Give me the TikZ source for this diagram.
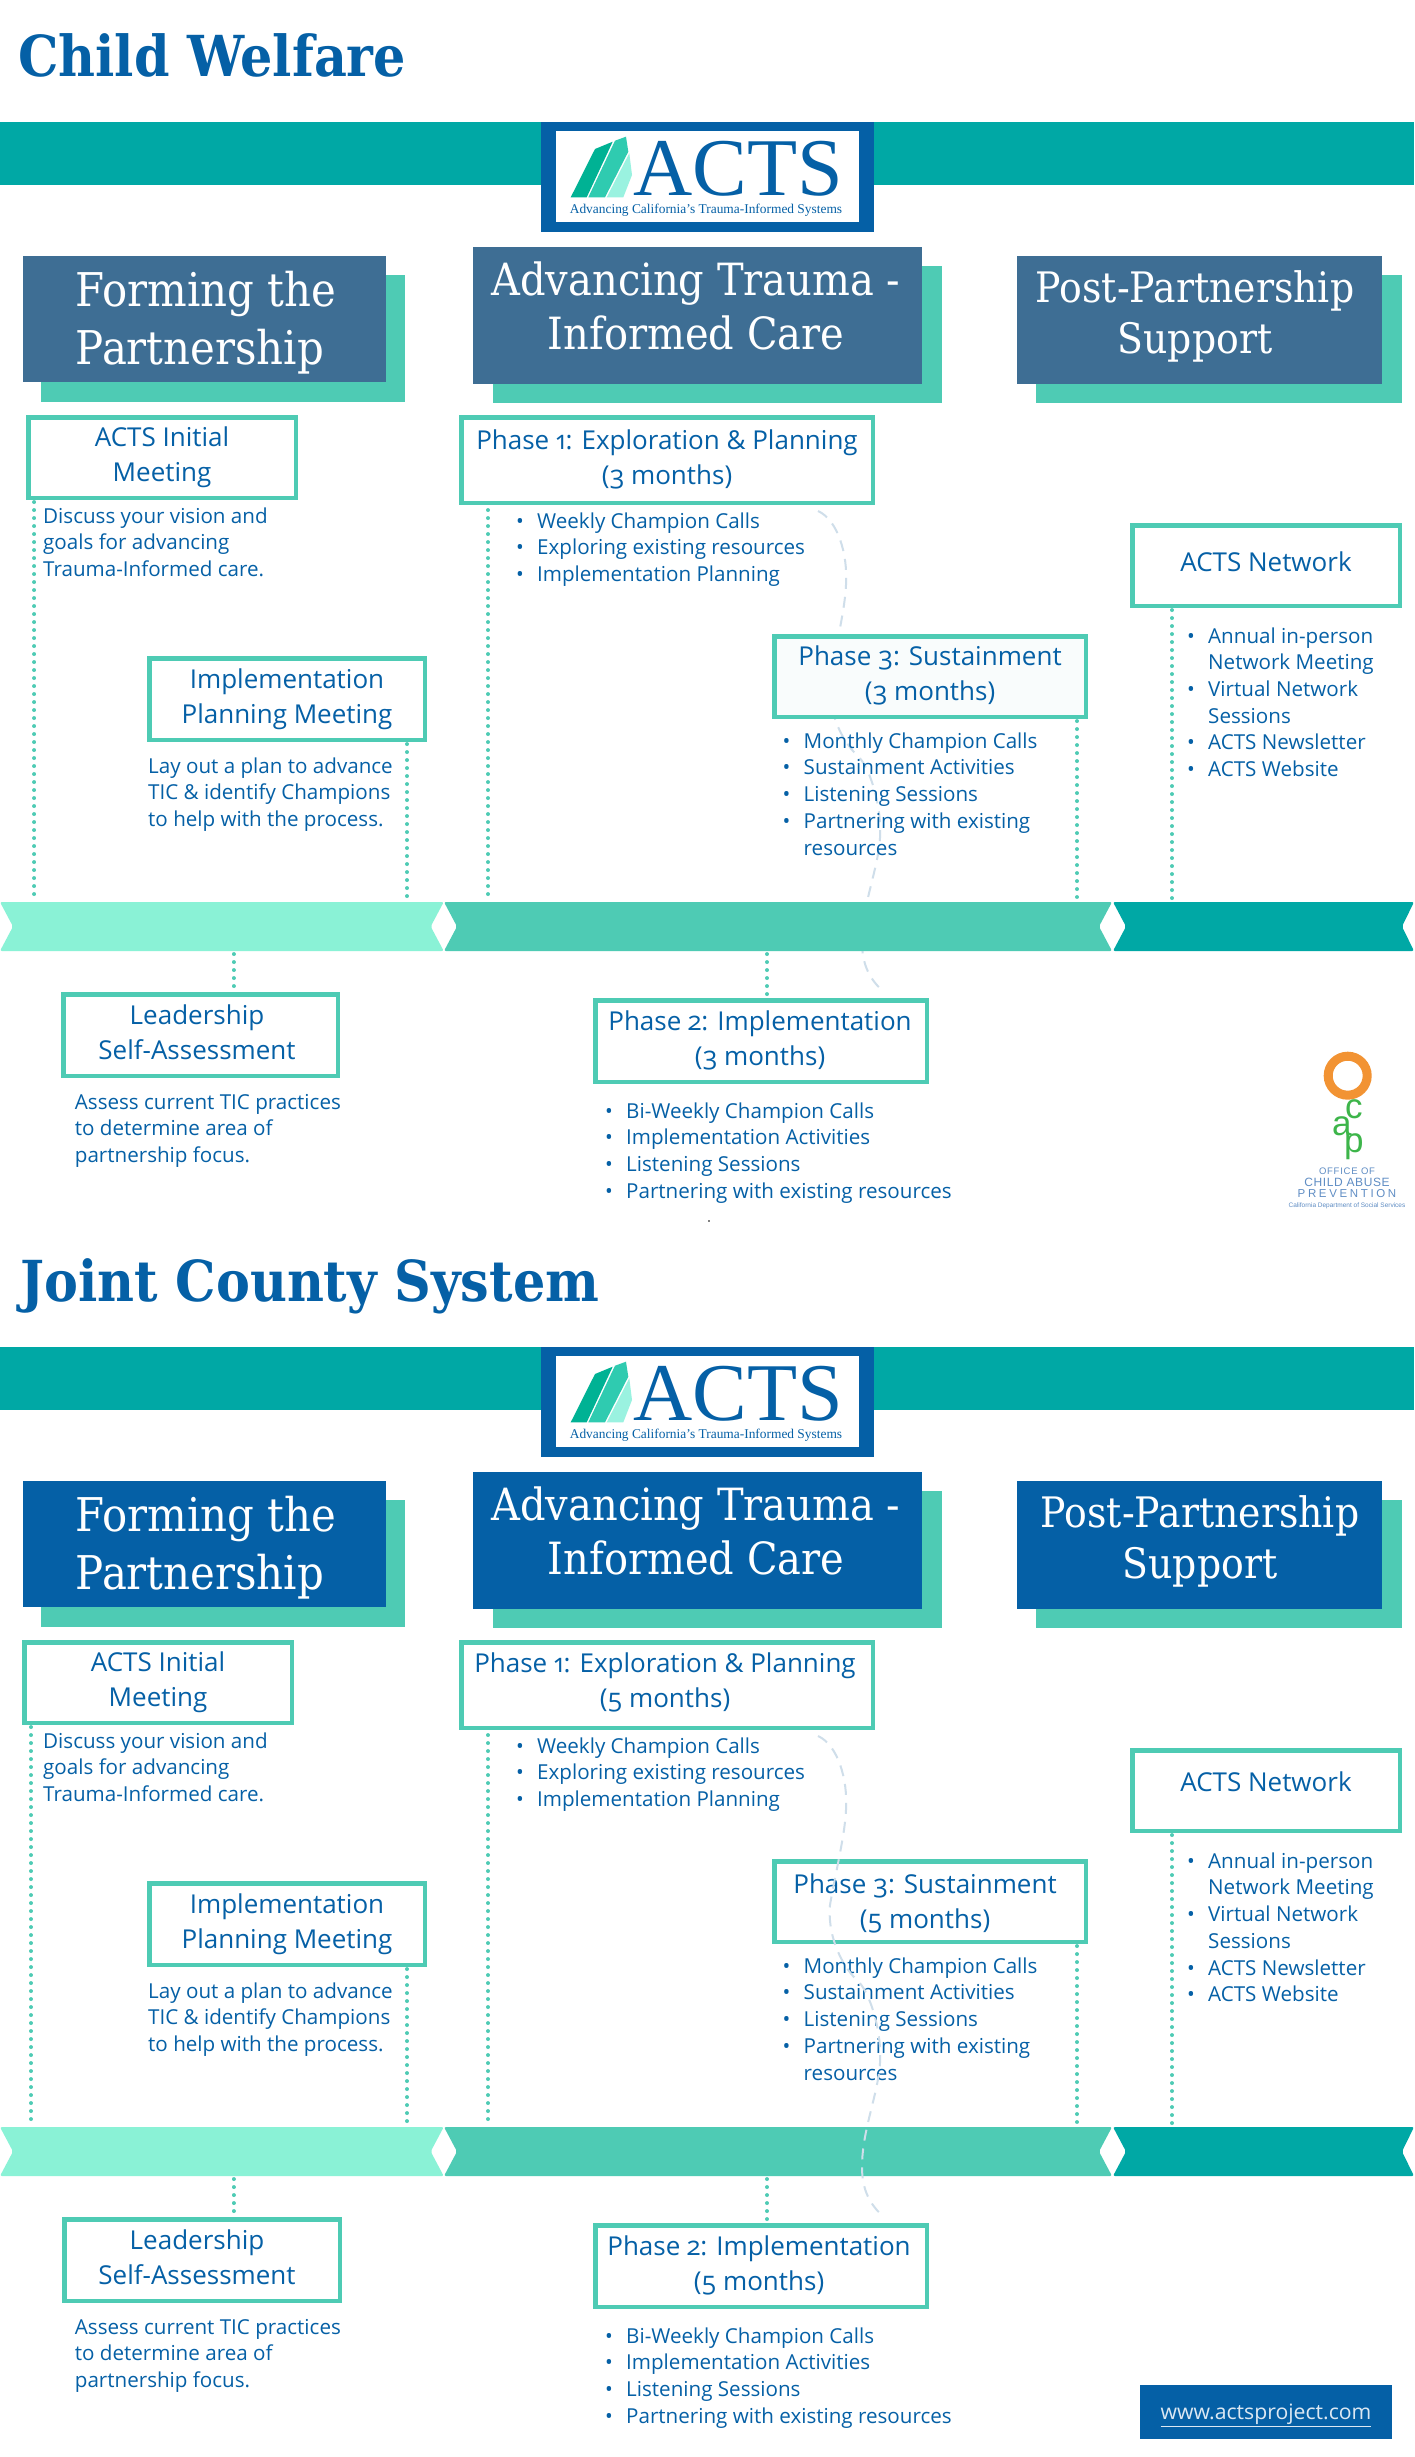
\documentclass[tikz,border=0pt]{standalone}
\usepackage{fontspec}
\usetikzlibrary{calc}
\setmainfont[Numbers=OldStyle]{Open Sans}
\newfontfamily\headfont[FakeStretch=0.9]{DejaVu Serif}
\newfontfamily\logofont{Liberation Serif}
\newfontfamily\ocapfont{Liberation Sans}
\definecolor{actsblue}{HTML}{0560A6}
\definecolor{slateblue}{HTML}{3E6E94}
\definecolor{mint}{HTML}{4ECBB4}
\definecolor{palemint}{HTML}{8AF2D6}
\definecolor{teal}{HTML}{00A8A5}
\definecolor{dashgrey}{HTML}{CFDEEA}
\definecolor{ocapblue}{HTML}{5F8DC4}
\definecolor{tintwhite}{HTML}{F9FCFC}
\definecolor{leafa}{HTML}{00B294}
\definecolor{leafb}{HTML}{2FCBB0}
\definecolor{leafc}{HTML}{9AF2E0}
\definecolor{ocapring}{HTML}{F29333}
\definecolor{ocapgreen}{HTML}{3DB54A}
\definecolor{webtextcol}{HTML}{DCE8F3}
\tikzset{
  tbox/.style={draw=mint,line width=4.5pt,fill=white,inner sep=0pt},
  plainbox/.style={inner sep=0pt,outer sep=0pt},
  boxtext/.style={inner sep=0pt,align=center,anchor=north,text=actsblue,font=\fontsize{26}{35}\selectfont},
  bodytext/.style={inner sep=0pt,align=left,anchor=north west,text=actsblue,font=\fontsize{20.6}{26.7}\selectfont},
  dotline/.style={draw=mint,line width=3.8pt,line cap=round,dash pattern=on 0.1pt off 7.9pt},
  dashcurve/.style={draw=dashgrey,line width=2pt,dash pattern=on 11pt off 8pt},
  headtext/.style={inner sep=0pt,text=white},
  ocapletter/.style={inner sep=0pt,anchor=base west,text=ocapgreen,font=\ocapfont\fontsize{35}{35}\selectfont},
  ocaptext/.style={inner sep=0pt,text=ocapblue},
}
% outlined box from its outer corners
\newcommand\TBox[6][]{\node[tbox,#1,minimum width={(#5-#3-4.5)*1pt},minimum height={(#6-#4-4.5)*1pt}] (#2) at ({(#3+#5)/2},{(#4+#6)/2}) {};}
% filled rectangle from its corners
\newcommand\FBox[6]{\node[plainbox,fill=#2,minimum width={(#5-#3)*1pt},minimum height={(#6-#4)*1pt}] (#1) at ({(#3+#5)/2},{(#4+#6)/2}) {};}
\newcommand\BoxLbl[4]{\node[boxtext] (#1) at (#2,{#3-15.8}) {\strut #4};}
\newcommand\Body[4]{\node[bodytext] (#1) at (#2,{#3-11.7}) {\strut #4};}
\newcommand\BL[1]{\hbox to 21pt{\textbullet\hfil}#1}
\newcommand\BLc{\hspace*{21pt}}
% head label: name, x, first-line centre, size, lead, alignment, text
\newcommand\HeadLbl[7]{\node[headtext,anchor=north,align=#6,font=\headfont\fontsize{#4}{#5}\selectfont] (#1) at (#2,{#3+0.36*#4-0.7*#5}) {\strut #7};}

\newif\ifdashtop
\newcommand\DashPath[1]{%
  \coordinate (#1ds) at (818,511);
  \coordinate (#1de) at (884,992);
  \draw[dashcurve] (#1ds) .. controls (838,520) and (848,555) .. (846,585)
    .. controls (845,610) and (835,650) .. (830,680)
    .. controls (827,715) and (845,745) .. (859,757)
    .. controls (872,772) and (882,810) .. (880,838)
    .. controls (878,870) and (862,905) .. (862,942)
    .. controls (862,965) and (870,980) .. (#1de);
}
\newcommand\LogoBlock[1]{%
  \FBox{#1logoframe}{actsblue}{541}{122}{874}{232}
  \FBox{#1logoinner}{white}{556}{131}{859}{222}
  \fill[leafa] (570.7,197.3) -- (595,149) -- (612.7,141.7) -- (586.7,197.3) -- cycle;
  \fill[leafb] (588.3,197.3) -- (615,140.7) -- (626,136.7) -- (628.3,151.7) -- (605,197.3) -- cycle;
  \fill[leafc] (606.7,197.3) -- (629.3,153.3) -- (632,175) -- (623.3,197.3) -- cycle;
  \node[inner sep=0pt,anchor=base west,text=actsblue,font=\logofont\fontsize{82}{82}\selectfont] (#1logoword) at (633,195.7) {ACTS};
  \node[inner sep=0pt,anchor=center,text=actsblue,font=\logofont\fontsize{13.4}{14}\selectfont] (#1logotag) at (706,210.5) {Advancing California’s Trauma-Informed Systems};
}
% #1 prefix, #2 y offset, #3 title, #4 header colour, #5 months
\newcommand\ActsPanel[5]{%
\begin{scope}[yshift=-#2pt]
  \node[inner sep=0pt,anchor=base west,text=actsblue,font=\headfont\bfseries\fontsize{56.5}{56.5}\selectfont] (#1title) at (\titleX,\titleY) {#3};
  \FBox{#1topband}{teal}{0}{122}{1414}{185}
  \LogoBlock{#1}
  % header cards
  \FBox{#1sa}{mint}{41}{275}{405}{402}
  \FBox{#1sb}{mint}{493}{266}{942}{403}
  \FBox{#1sc}{mint}{1036}{275}{1402}{403}
  \FBox{#1ha}{#4}{23}{256}{386}{382}
  \FBox{#1hb}{#4}{473}{247}{922}{384}
  \FBox{#1hc}{#4}{1017}{256}{1382}{384}
  \HeadLbl{#1hat}{206}{290}{46.5}{58}{left}{Forming the\\Partnership}
  \HeadLbl{#1hbt}{696}{279}{44.4}{54}{center}{Advancing Trauma -\\Informed Care}
  \HeadLbl{#1hct}{\postX}{287}{42}{51}{center}{Post-Partnership\\Support}
  \ifdashtop\else\DashPath{#1}\fi
  % ribbon
  \node[plainbox,minimum width=443.7pt,minimum height=49pt] (#1barA) at (221.85,926.5) {};
  \node[plainbox,minimum width=668pt,minimum height=49pt] (#1barB) at (778,926.5) {};
  \node[plainbox,minimum width=301pt,minimum height=49pt] (#1barC) at (1263.5,926.5) {};
  \fill[palemint,rounded corners=2pt] (#1barA.north west) -- (#1barA.north east) -- ($(#1barA.east)+(-13,0)$) -- (#1barA.south east) -- (#1barA.south west) -- ($(#1barA.west)+(13,0)$) -- cycle;
  \fill[mint,rounded corners=2pt] (#1barB.north west) -- (#1barB.north east) -- ($(#1barB.east)+(-13,0)$) -- (#1barB.south east) -- (#1barB.south west) -- ($(#1barB.west)+(13,0)$) -- cycle;
  \fill[teal,rounded corners=2pt] (#1barC.north west) -- (#1barC.north east) -- ($(#1barC.east)+(-12,0)$) -- (#1barC.south east) -- (#1barC.south west) -- ($(#1barC.west)+(13,0)$) -- cycle;
  % boxes
  \TBox{#1init}{\initL}{415}{\initR}{500}
  \TBox{#1impl}{147}{656}{427}{742}
  \TBox{#1lead}{\leadL}{992}{\leadR}{1078}
  \TBox{#1pha}{459}{415}{875}{505}
  \TBox[fill=\phaseThreeFill]{#1phc}{772}{634}{1088}{719}
  \TBox{#1phb}{593}{998}{929}{1084}
  \TBox{#1net}{1130}{523}{1402}{608}
  % box labels
  \BoxLbl{#1initt}{\initT}{438}{ACTS Initial\\Meeting}
  \BoxLbl{#1implt}{287}{680}{Implementation\\Planning Meeting}
  \BoxLbl{#1leadt}{197}{1016}{Leadership\\Self-Assessment}
  \BoxLbl{#1phat}{\phaseOneX}{\phaseOneY}{Phase 1: Exploration \& Planning\\(#5 months)}
  \BoxLbl{#1phct}{\phaseThreeX}{\phaseThreeY}{Phase 3: Sustainment\\(#5 months)}
  \BoxLbl{#1phbt}{\phaseTwoX}{1022}{Phase 2: Implementation\\(\phaseTwoM\ months)}
  \BoxLbl{#1nett}{1266}{\netY}{ACTS Network}
  % body text
  \Body{#1initb}{43}{516}{Discuss your vision and\\goals for advancing\\Trauma-Informed care.}
  \Body{#1implb}{148}{766}{Lay out a plan to advance\\TIC \& identify Champions\\to help with the process.}
  \Body{#1leadb}{74.7}{1102}{Assess current TIC practices\\to determine area of\\partnership focus.}
  \Body{#1phab}{516}{521}{\BL{Weekly Champion Calls}\\\BL{Exploring existing resources}\\\BL{Implementation Planning}}
  \Body{#1phcb}{782.5}{741}{\BL{Monthly Champion Calls}\\\BL{Sustainment Activities}\\\BL{Listening Sessions}\\\BL{Partnering with existing}\\\BLc resources}
  \Body{#1phbb}{605}{1111}{\BL{Bi-Weekly Champion Calls}\\\BL{Implementation Activities}\\\BL{Listening Sessions}\\\BL{Partnering with existing resources}}
  \Body{#1netb}{1187}{636}{\BL{Annual in-person}\\\BLc Network Meeting\\\BL{Virtual Network}\\\BLc Sessions\\\BL{ACTS Newsletter}\\\BL{ACTS Website}}
  % dotted connectors
  \coordinate (#1xa) at (\dotLeft,0);
  \coordinate (#1xb) at (407,0);
  \coordinate (#1xc) at (488,0);
  \coordinate (#1xd) at (1077,0);
  \coordinate (#1xe) at (1172,0);
  \coordinate (#1xf) at (233.7,0);
  \coordinate (#1xg) at (767,0);
  \draw[dotline,shorten >=5pt,shorten <=2pt] (#1xa |- #1init.south) -- (#1xa |- #1barA.north);
  \draw[dotline,shorten >=5pt,shorten <=2pt] (#1xb |- #1impl.south) -- (#1xb |- #1barA.north);
  \draw[dotline,shorten >=5pt,shorten <=5pt] (#1xc |- #1pha.south) -- (#1xc |- #1barB.north);
  \draw[dotline,shorten >=5pt,shorten <=2pt] (#1xd |- #1phc.south) -- (#1xd |- #1barB.north);
  \draw[dotline,shorten >=3pt,shorten <=2pt] (#1xe |- #1net.south) -- (#1xe |- #1barC.north);
  \draw[dotline,shorten >=4pt,shorten <=3pt] (#1xf |- #1barA.south) -- (#1xf |- #1lead.north);
  \draw[dotline,shorten >=2pt,shorten <=3pt] (#1xg |- #1barB.south) -- (#1xg |- #1phb.north);
  \ifdashtop\DashPath{#1}\fi
\end{scope}}

\begin{document}
\begin{tikzpicture}[x=1pt,y=-1pt]
\useasboundingbox (0,0) rectangle (1414,2457);
\fill[white] (0,0) rectangle (1414,2457);
% --- Child Welfare
\dashtopfalse
\def\titleX{18}\def\titleY{77}\def\postX{1195}
\def\initL{26}\def\initR{298}\def\initT{162}\def\leadL{61}\def\leadR{340}
\def\phaseOneX{667}\def\phaseOneY{441}\def\phaseThreeX{930}\def\phaseThreeY{657}\def\phaseTwoX{760}\def\phaseTwoM{3}
\def\netY{563}\def\dotLeft{34.3}\def\phaseThreeFill{tintwhite}
\ActsPanel{a}{0}{Child Welfare}{slateblue}{3}
\fill[black] (709,1221) circle (0.8);
% OCAP logo
\draw[draw=ocapring,line width=9pt] (1347.7,1075.7) circle (19.5);
\node[ocapletter] (ocapc) at (1345,1118) {c};
\node[ocapletter] (ocapa) at (1332,1135) {a};
\node[ocapletter] (ocapp) at (1344,1152) {p};
\node[ocaptext,font=\ocapfont\fontsize{9.5}{10}\selectfont\addfontfeature{LetterSpace=8}] (ocap1) at (1347,1171.7) {OFFICE OF};
\node[ocaptext,font=\ocapfont\fontsize{12}{13}\selectfont\addfontfeature{LetterSpace=5}] (ocap2) at (1347,1182) {CHILD ABUSE};
\node[ocaptext,font=\ocapfont\fontsize{11.5}{13}\selectfont\addfontfeature{LetterSpace=23}] (ocap3) at (1347,1193.5) {PREVENTION};
\node[ocaptext,font=\ocapfont\fontsize{6.5}{7}\selectfont] (ocap4) at (1347,1205.7) {California Department of Social Services};
% --- Joint County System
\dashtoptrue
\def\titleX{20}\def\titleY{76}\def\postX{1200}
\def\initL{22}\def\initR{294}\def\initT{158}\def\leadL{62}\def\leadR{342}
\def\phaseOneX{665}\def\phaseOneY{439}\def\phaseThreeX{925}\def\phaseThreeY{660}\def\phaseTwoX{759}\def\phaseTwoM{5}
\def\netY{558}\def\dotLeft{31}\def\phaseThreeFill{white}
\ActsPanel{b}{1225}{Joint County System}{actsblue}{5}
\FBox{webbox}{actsblue}{1140}{2385}{1392}{2439}
\node[inner sep=0pt,text=webtextcol,font=\fontsize{21.2}{24}\selectfont] (webtext) at (1266,2415) {\underline{www.actsproject.com}};
\end{tikzpicture}
\end{document}
